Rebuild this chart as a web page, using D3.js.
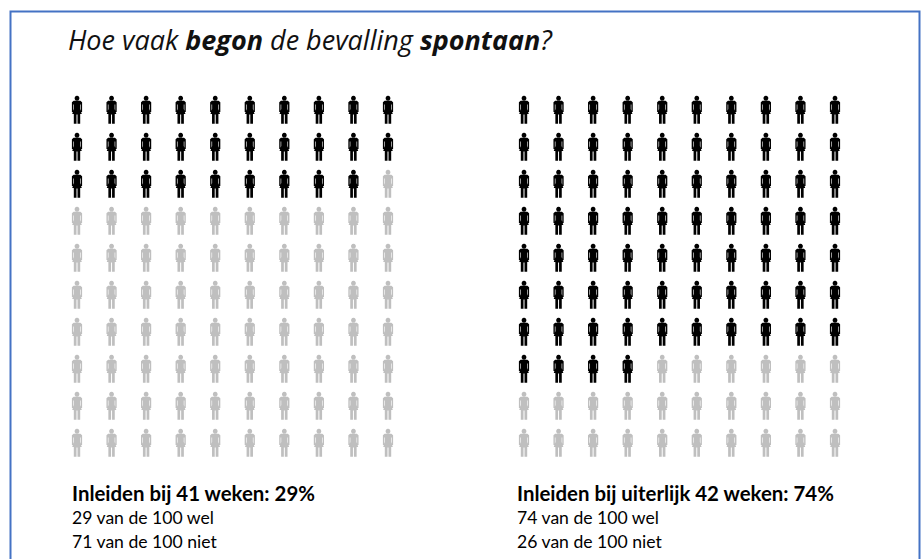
<!DOCTYPE html>
<html>
<head>
<meta charset="utf-8">
<script src="https://cdn.jsdelivr.net/npm/d3@7"></script>
<style>
  html, body { margin: 0; padding: 0; background: #fff; }
  svg { display: block; }
</style>
</head>
<body>
<div class="IconChart"></div>
<script>
/* Data */
const panelLabels = ["Inleiden bij 41 weken: 29%", "Inleiden bij uiterlijk 42 weken: 74%"];
const welCounts = [29, 74];
const nietCounts = [71, 26];
const welLines = ["29 van de 100 wel", "74 van de 100 wel"];
const nietLines = ["71 van de 100 niet", "26 van de 100 niet"];
const columnIds = d3.range(10);
const rowIds = d3.range(10);

/* Dimensions */
const width = 924;
const height = 559;
const panelLeft = [77, 524];
const panelRight = [388, 835];
const textLeft = [72, 517];

const svg = d3.select(".IconChart")
    .append("svg")
    .attr("width", width)
    .attr("height", height);

// blue frame, open at the bottom of the picture
svg.append("path")
    .attr("d", "M10.5,559V11.5H919.5V559")
    .attr("fill", "none")
    .attr("stroke", "#4472c4")
    .attr("stroke-width", 2);

// Title
const title = svg.append("text")
    .attr("x", 68)
    .attr("y", 50)
    .style("font-family", "'Open Sans'")
    .style("font-size", "27px")
    .style("font-style", "italic")
    .attr("fill", "#111");
title.append("tspan").text("Hoe vaak ");
title.append("tspan").style("font-weight", "bold").text("begon");
title.append("tspan").text(" de bevalling ");
title.append("tspan").style("font-weight", "bold").text("spontaan");
title.append("tspan").text("?");

/* Scales */
const yScale = d3.scalePoint()
    .domain(rowIds)
    .range([110, 443]);

// one person, drawn around 0,0
const personPath = "M0,-14.2a2.4,2.4 0 1,0 0.01,0Z"
    + "M-3.4,-9.2H3.4L5.1,-7.8V2H3.7V-5.4H3.1V-1L4.8,4H3.2V13.8H0.5V4.6H-0.5V13.8H-3.2V4H-4.8L-3.1,-1V-5.4H-3.7V2H-5.1V-7.8Z";

/* Panels */
panelLabels.forEach((label, p) => {
    const xScale = d3.scalePoint()
        .domain(columnIds)
        .range([panelLeft[p], panelRight[p]]);

    const people = d3.range(welCounts[p] + nietCounts[p]).map(i => ({
        row: Math.floor(i / 10),
        col: i % 10,
        wel: i < welCounts[p]
    }));

    svg.append("g")
        .selectAll("path")
        .data(people)
        .enter()
        .append("path")
        .attr("d", personPath)
        .attr("transform", d => `translate(${xScale(d.col)},${yScale(d.row)})`)
        .attr("fill", d => d.wel ? "#000" : "#bfbfbf");

    svg.append("text")
        .attr("x", textLeft[p])
        .attr("y", 501)
        .style("font-family", "Lato")
        .style("font-size", "20.4px")
        .style("font-weight", "bold")
        .attr("fill", "#000")
        .text(label);

    [welLines[p], nietLines[p]].forEach((line, i) => {
        svg.append("text")
            .attr("x", textLeft[p])
            .attr("y", 524 + i * 23.5)
            .style("font-family", "Lato")
            .style("font-size", "17.6px")
            .attr("fill", "#000")
            .text(line);
    });
});
</script>
</body>
</html>
